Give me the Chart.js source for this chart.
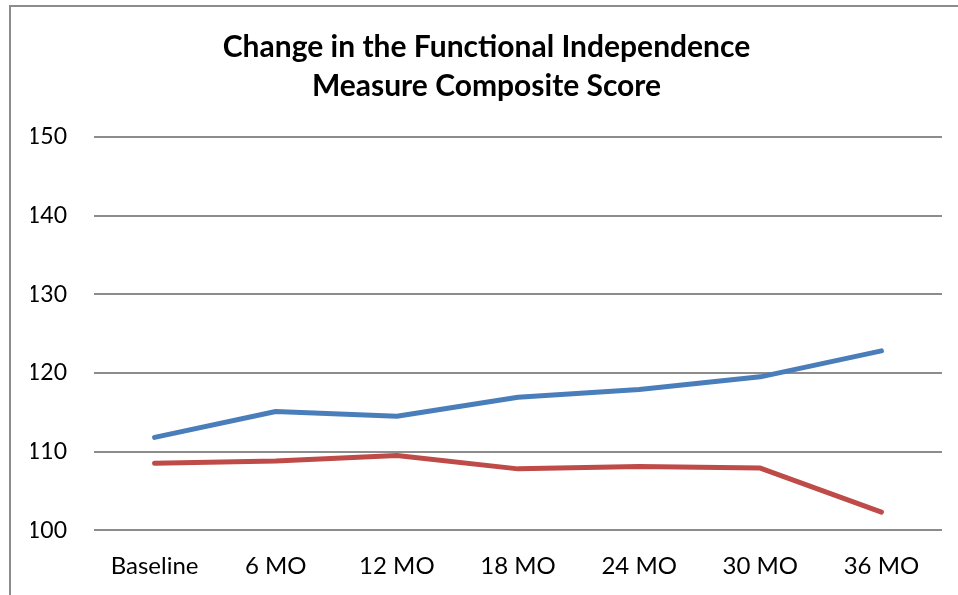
<!DOCTYPE html>
<html>
<head>
<meta charset="utf-8">
<script src="https://cdn.jsdelivr.net/npm/chart.js@4"></script>
<style>
  html, body { margin: 0; padding: 0; background: #fff; overflow: hidden; }
  #box {
    position: absolute; left: 9px; top: 5px;
    width: 970px; height: 610px;
    border-left: 2px solid #8c8c8c; border-top: 2px solid #8c8c8c;
  }
  #wrap { position: absolute; left: 2px; top: 2px; width: 968px; height: 600px; }
</style>
</head>
<body>
<div id="box"><div id="wrap"><canvas id="chart"></canvas></div></div>
<script>
// Dados do gráfico
const categories = ['Baseline', '6 MO', '12 MO', '18 MO', '24 MO', '30 MO', '36 MO'];
const seriesA = [111.8, 115.1, 114.5, 116.9, 117.9, 119.5, 122.8];
const seriesB = [108.5, 108.8, 109.5, 107.8, 108.1, 107.9, 102.3];
const yTicks = [100, 110, 120, 130, 140, 150];
const titleLines = ['Change in the Functional Independence', 'Measure Composite Score'];

const fontFamily = 'Lato, "Open Sans", sans-serif';

new Chart(document.getElementById('chart'), {
    type: 'line',
    data: {
        labels: categories,
        datasets: [
            { label: 'A', data: seriesA, borderColor: '#4a7ebb', borderWidth: 5 },
            { label: 'B', data: seriesB, borderColor: '#be4b48', borderWidth: 5 }
        ]
    },
    options: {
        responsive: true,
        maintainAspectRatio: false,
        animation: false,
        elements: {
            point: { radius: 0 },
            line: { tension: 0, borderCapStyle: 'round', borderJoinStyle: 'round' }
        },
        layout: { padding: { left: 18, right: 39, top: 19, bottom: 6 } },
        plugins: {
            legend: { display: false },
            tooltip: { enabled: false },
            title: {
                display: true,
                text: titleLines,
                color: '#000',
                font: { family: fontFamily, size: 30, weight: 'bold', lineHeight: 1.3 },
                padding: { top: 0, bottom: 31 }
            }
        },
        scales: {
            x: {
                offset: true,
                afterFit: (s) => { s.paddingLeft = 0; s.paddingRight = 0; },
                grid: { display: false, drawTicks: false },
                border: { display: false },
                ticks: { color: '#000', font: { family: fontFamily, size: 24 }, padding: 22, maxRotation: 0 }
            },
            y: {
                min: 100,
                max: 150,
                afterBuildTicks: (scale) => { scale.ticks = yTicks.map(v => ({ value: v })); },
                afterFit: (s) => { s.width = 63; },
                grid: { color: '#8c8c8c', lineWidth: 2, drawTicks: false },
                border: { display: false },
                ticks: { color: '#000', font: { family: fontFamily, size: 23 }, padding: 27 }
            }
        }
    }
});
</script>
</body>
</html>
